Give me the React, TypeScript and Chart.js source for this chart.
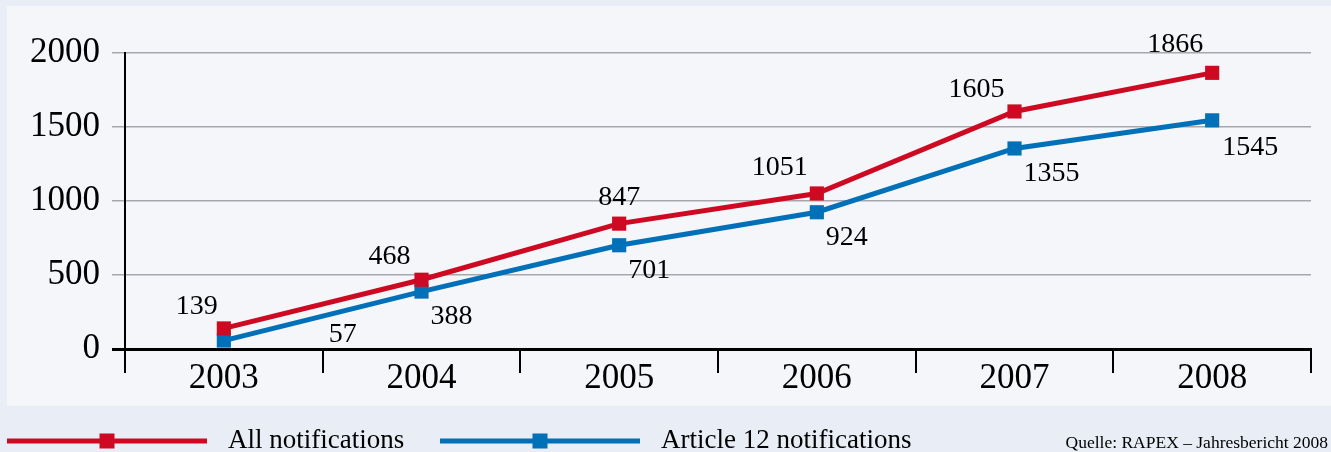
import React, { useEffect, useRef } from 'react';
import { Chart, registerables } from 'chart.js';

Chart.register(...registerables);

// ---- data ----
const years = ['2003', '2004', '2005', '2006', '2007', '2008'];
const allNotifications = [139, 468, 847, 1051, 1605, 1866];
const article12Notifications = [57, 388, 701, 924, 1355, 1545];
const yTicks = [0, 500, 1000, 1500, 2000];
const seriesNames = ['All notifications', 'Article 12 notifications'];
const sourceNote = 'Quelle: RAPEX – Jahresbericht 2008';

// ---- styling ----
const RED = '#cd0a22';
const BLUE = '#0070b8';
const TEXT = '#000';
const SERIF = "'Liberation Serif', 'Times New Roman', serif";
const W = 1331;
const H = 452;
const labelOffsets = [
  [[-27, -22], [-32, -23], [0, -26], [-37, -26], [-38, -22], [-37, -28]],
  [[119, -6], [30, 25], [30, 25], [30, 25], [37, 25], [38, 27]],
];
const legendStartX = [7, 440];

const backgroundPlugin = {
  id: 'bgPanel',
  beforeDraw(chart: any) {
    const { ctx } = chart;
    ctx.save();
    ctx.fillStyle = '#e9edf5';
    ctx.fillRect(0, 0, W, H);
    ctx.fillStyle = '#f5f6fa';
    ctx.fillRect(7, 6, W - 7, 400);
    ctx.restore();
  },
};

const valueLabelPlugin = {
  id: 'valueLabels',
  afterDatasetsDraw(chart: any) {
    const { ctx } = chart;
    ctx.save();
    ctx.font = `28px ${SERIF}`;
    ctx.fillStyle = TEXT;
    ctx.textAlign = 'center';
    ctx.textBaseline = 'middle';
    chart.data.datasets.forEach((ds: any, di: number) => {
      const meta = chart.getDatasetMeta(di);
      meta.data.forEach((pt: any, i: number) => {
        const off = labelOffsets[di][i];
        ctx.fillText(String(ds.data[i]), pt.x + off[0], pt.y + off[1]);
      });
    });
    ctx.restore();
  },
};

const legendPlugin = {
  id: 'customLegend',
  afterDraw(chart: any) {
    const { ctx } = chart;
    ctx.save();
    const y = 441;
    chart.data.datasets.forEach((ds: any, di: number) => {
      const x0 = legendStartX[di];
      ctx.strokeStyle = ds.borderColor;
      ctx.lineWidth = 5;
      ctx.beginPath();
      ctx.moveTo(x0, y);
      ctx.lineTo(x0 + 200, y);
      ctx.stroke();
      ctx.fillStyle = ds.borderColor;
      ctx.fillRect(x0 + 100 - 7.5, y - 7.5, 15, 15);
      ctx.fillStyle = TEXT;
      ctx.font = `27px ${SERIF}`;
      ctx.textAlign = 'left';
      ctx.textBaseline = 'alphabetic';
      ctx.fillText(ds.label, x0 + 221, 448);
    });
    ctx.font = `17.5px ${SERIF}`;
    ctx.textAlign = 'right';
    ctx.fillStyle = TEXT;
    ctx.fillText(sourceNote, 1328, 448);
    ctx.restore();
  },
};

export default function App() {
  const canvasRef = useRef<HTMLCanvasElement | null>(null);

  useEffect(() => {
    if (!canvasRef.current) return;
    const chart = new Chart(canvasRef.current, {
      type: 'line',
      data: {
        labels: years,
        datasets: [
          {
            label: seriesNames[0],
            data: allNotifications,
            borderColor: RED,
            backgroundColor: RED,
            borderWidth: 5,
            pointStyle: 'rect',
            pointRadius: 10,
            pointBorderWidth: 0,
            pointBackgroundColor: RED,
            tension: 0,
          },
          {
            label: seriesNames[1],
            data: article12Notifications,
            borderColor: BLUE,
            backgroundColor: BLUE,
            borderWidth: 5,
            pointStyle: 'rect',
            pointRadius: 10,
            pointBorderWidth: 0,
            pointBackgroundColor: BLUE,
            tension: 0,
          },
        ],
      },
      options: {
        responsive: false,
        animation: false,
        layout: { padding: { top: 53, left: 0, right: 20, bottom: 0 } },
        plugins: {
          legend: { display: false },
          tooltip: { enabled: false },
        },
        scales: {
          x: {
            offset: true,
            afterFit(scale: any) {
              scale.height = H - 349;
            },
            grid: {
              display: true,
              offset: true,
              drawOnChartArea: false,
              drawTicks: true,
              tickLength: 24,
              color: '#000',
              lineWidth: 2,
            },
            border: { display: true, color: '#000', width: 3 },
            ticks: {
              padding: -15,
              color: TEXT,
              font: { family: SERIF, size: 35 },
              maxRotation: 0,
            },
          },
          y: {
            min: 0,
            max: 2000,
            afterFit(scale: any) {
              scale.width = 125;
            },
            afterBuildTicks(scale: any) {
              scale.ticks = yTicks.map((v) => ({ value: v }));
            },
            grid: {
              color: (c: any) => (c.tick && c.tick.value === 0 ? '#000' : '#a7a8ad'),
              lineWidth: (c: any) => (c.tick && c.tick.value === 0 ? 3 : 1.5),
              tickLength: 13,
            },
            border: { display: true, color: '#000', width: 2 },
            ticks: {
              padding: 12,
              color: TEXT,
              font: { family: SERIF, size: 35 },
              callback: (v: any) => String(v),
            },
          },
        },
      },
      plugins: [backgroundPlugin, valueLabelPlugin, legendPlugin],
    });
    return () => chart.destroy();
  }, []);

  return (
    <div style={{ position: 'absolute', left: 0, top: 0, width: W, height: H }}>
      <canvas ref={canvasRef} width={W} height={H} style={{ display: 'block' }} />
    </div>
  );
}
